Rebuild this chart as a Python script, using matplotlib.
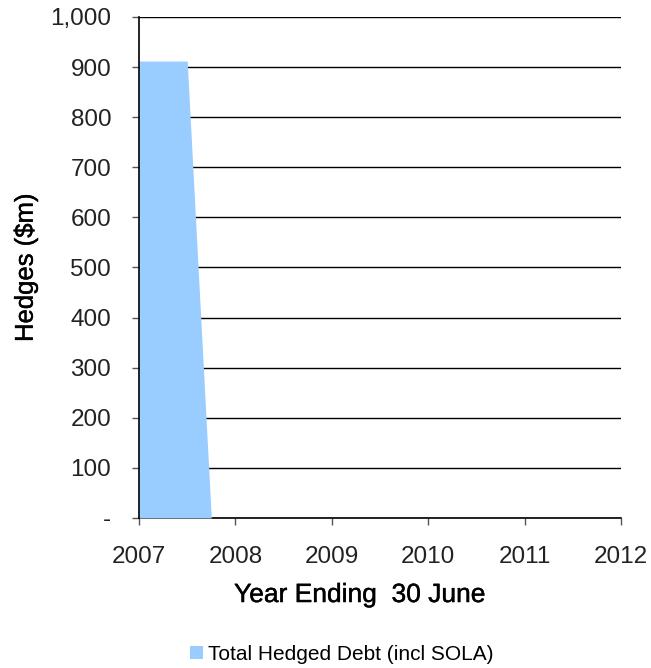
import matplotlib
matplotlib.use("Agg")
import matplotlib.pyplot as plt
import matplotlib.patheffects as pe
from matplotlib.ticker import FuncFormatter

plt.rcParams["font.family"] = ["Liberation Sans", "DejaVu Sans"]

# =========================
# DATA
# =========================
years = [2007.0, 2007.5, 2007.75, 2008.0, 2009.0, 2010.0, 2011.0, 2012.0]
hedged_debt = [912, 912, 0, 0, 0, 0, 0, 0]
series_label = "Total Hedged Debt (incl SOLA)"
x_ticks = [2007, 2008, 2009, 2010, 2011, 2012]
y_ticks = list(range(0, 1001, 100))


def y_fmt(v, pos):
    if v == 0:
        return "-"
    return f"{int(v):,}"


fig = plt.figure(figsize=(6.51, 6.68), dpi=100)
ax = fig.add_axes([0.2135, 0.2246, 0.7405, 0.75])

ax.fill_between(years, hedged_debt, 0, color="#99ccff", linewidth=0,
                label=series_label, zorder=3)

ax.set_xlim(2007, 2012)
ax.set_ylim(0, 1000)
ax.set_xticks(x_ticks)
ax.set_yticks(y_ticks)
ax.yaxis.set_major_formatter(FuncFormatter(y_fmt))
ax.grid(axis="y", color="black", linewidth=1.0, zorder=1)

for side in ["top", "right"]:
    ax.spines[side].set_visible(False)
ax.spines["left"].set_linewidth(1.2)
ax.spines["bottom"].set_linewidth(1.2)
ax.spines["left"].set_zorder(4)

ax.tick_params(axis="y", direction="out", length=5, width=1.0, color="#555555",
               labelsize=17.5, pad=15, labelcolor="#222222")
ax.tick_params(axis="x", direction="out", length=5, width=1.0, color="#555555",
               labelsize=17.5, pad=15, labelcolor="#222222")

heavy = [pe.withStroke(linewidth=0.3, foreground="black")]
ax.set_ylabel("Hedges ($m)", fontsize=18.5, labelpad=9, path_effects=heavy)
ax.set_xlabel("Year Ending  30 June", fontsize=19, labelpad=11, path_effects=heavy)
ax.xaxis.label.set_x(0.458)

fig.legend(loc="lower center", bbox_to_anchor=(0.525, -0.022), frameon=False,
           fontsize=15, handlelength=0.63, handleheight=0.6, handletextpad=0.25)

fig.savefig("out.png", dpi=100)
